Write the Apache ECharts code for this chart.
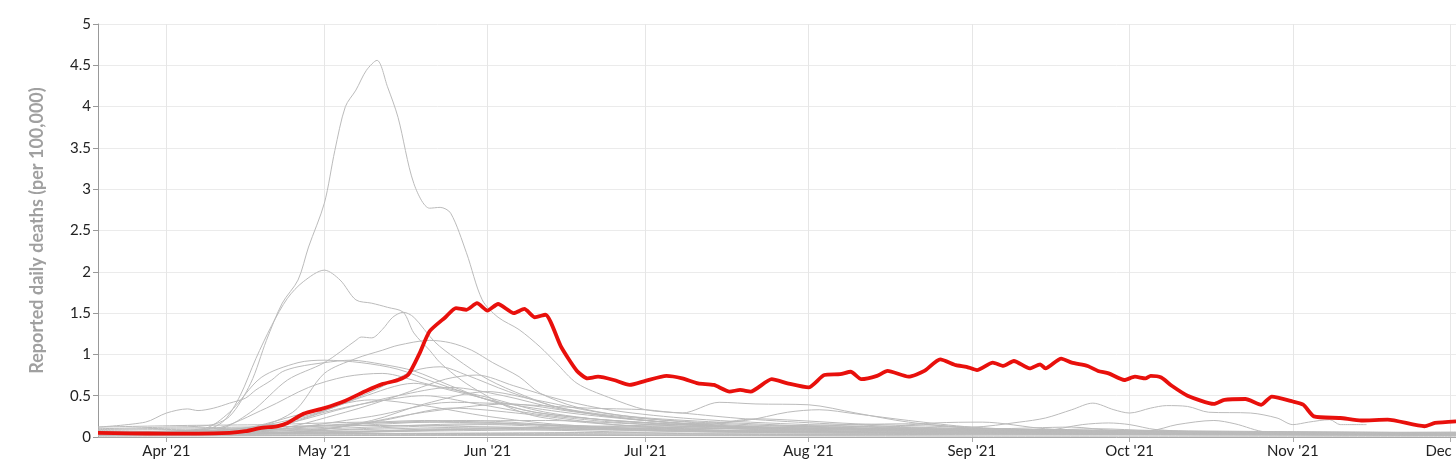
<!DOCTYPE html>
<html>
<head>
<meta charset="utf-8">
<title>Reported daily deaths</title>
<script src="https://cdn.jsdelivr.net/npm/echarts@6/dist/echarts.min.js"></script>
<style>
  html, body { margin: 0; padding: 0; background: #fff; }
  #chart { width: 1456px; height: 461px; }
</style>
</head>
<body>
<div id="chart"></div>
<script>
// x range and y ticks
const xStart = '2021-03-19';
const xEnd = '2021-12-02';
const yTicks = [0, 0.5, 1, 1.5, 2, 2.5, 3, 3.5, 4, 4.5, 5];
const monthNames = ['Jan', 'Feb', 'Mar', 'Apr', 'May', 'Jun', 'Jul', 'Aug', 'Sep', 'Oct', 'Nov', 'Dec'];

// highlighted country (red)
const redLine = [['03-19',0.05],['03-25',0.045],['04-01',0.04],['04-07',0.04],['04-13',0.05],['04-16',0.07],['04-19',0.11],['04-22',0.13],['04-24',0.17],['04-27',0.28],['05-01',0.35],['05-05',0.44],['05-09',0.56],['05-12',0.64],['05-15',0.69],['05-17',0.76],['05-19',1.0],['05-21',1.28],['05-24',1.45],['05-26',1.56],['05-28',1.54],['05-30',1.62],['06-01',1.53],['06-03',1.61],['06-06',1.50],['06-08',1.55],['06-10',1.45],['06-12',1.48],['06-15',1.09],['06-18',0.80],['06-20',0.71],['06-22',0.73],['06-25',0.69],['06-28',0.63],['07-01',0.68],['07-05',0.74],['07-08',0.71],['07-11',0.65],['07-14',0.63],['07-17',0.55],['07-19',0.57],['07-21',0.55],['07-25',0.70],['07-28',0.65],['08-01',0.60],['08-04',0.75],['08-07',0.76],['08-09',0.79],['08-11',0.70],['08-14',0.74],['08-16',0.80],['08-20',0.73],['08-23',0.80],['08-26',0.94],['08-29',0.87],['08-31',0.85],['09-02',0.81],['09-05',0.90],['09-07',0.86],['09-09',0.92],['09-12',0.83],['09-14',0.88],['09-15',0.83],['09-18',0.95],['09-20',0.90],['09-23',0.86],['09-25',0.80],['09-27',0.77],['09-30',0.69],['10-02',0.73],['10-04',0.71],['10-05',0.74],['10-07',0.72],['10-09',0.62],['10-12',0.50],['10-17',0.40],['10-19',0.45],['10-23',0.46],['10-26',0.39],['10-28',0.49],['11-01',0.43],['11-03',0.39],['11-05',0.25],['11-10',0.23],['11-14',0.20],['11-19',0.21],['11-26',0.13],['11-28',0.17],['12-02',0.19]];

// other countries (grey)
const gA = [['03-19',0.10],['04-01',0.12],['04-09',0.14],['04-13',0.25],['04-17',0.65],['04-20',1.17],['04-23',1.62],['04-26',1.9],['04-28',2.3],['05-01',2.83],['05-03',3.47],['05-05',4.0],['05-07',4.2],['05-09',4.44],['05-11',4.56],['05-13',4.24],['05-15',3.87],['05-18',3.07],['05-21',2.77],['05-23',2.78],['05-25',2.71],['05-28',2.23],['05-31',1.66],['06-03',1.45],['06-07',1.30],['06-11',1.09],['06-14',0.9],['06-18',0.65],['06-24',0.48],['07-01',0.33],['07-08',0.29],['07-20',0.22],['08-05',0.16],['09-01',0.10],['10-01',0.07],['11-01',0.05],['12-02',0.04]];
const gB = [['03-19',0.06],['04-01',0.07],['04-09',0.1],['04-12',0.2],['04-15',0.5],['04-18',0.95],['04-21',1.35],['04-24',1.68],['04-27',1.88],['05-01',2.02],['05-04',1.9],['05-07',1.66],['05-10',1.62],['05-13',1.57],['05-16',1.51],['05-18',1.26],['05-21',1.05],['05-23',0.9],['05-27',0.69],['05-31',0.53],['06-05',0.36],['06-11',0.24],['06-25',0.15],['07-15',0.1],['08-15',0.07],['10-01',0.05],['12-02',0.03]];
const gC = [['03-19',0.05],['04-10',0.08],['04-17',0.3],['04-24',0.69],['05-01',0.9],['05-07',1.17],['05-08',1.21],['05-10',1.2],['05-12',1.3],['05-14',1.45],['05-16',1.51],['05-18',1.45],['05-22',1.15],['05-26',0.95],['06-01',0.7],['06-08',0.5],['06-15',0.35],['07-01',0.22],['08-01',0.12],['09-01',0.08],['12-02',0.04]];
const gD = [['03-19',0.04],['04-15',0.08],['04-25',0.3],['05-01',0.77],['05-07',0.95],['05-12',1.05],['05-15',1.11],['05-21',1.17],['05-25',1.14],['05-29',1.05],['06-02',0.9],['06-07',0.73],['06-11',0.53],['06-18',0.36],['06-28',0.25],['07-15',0.18],['08-15',0.1],['10-01',0.06],['12-02',0.04]];
const gE = [['03-19',0.05],['04-08',0.1],['04-13',0.3],['04-19',0.72],['04-26',0.9],['05-01',0.93],['05-08',0.9],['05-15',0.82],['05-22',0.66],['06-01',0.45],['06-10',0.3],['06-25',0.2],['07-20',0.12],['09-01',0.07],['12-02',0.04]];
const gF = [['03-19',0.12],['03-28',0.18],['04-01',0.29],['04-05',0.34],['04-07',0.32],['04-10',0.35],['04-13',0.41],['04-16',0.47],['04-18',0.57],['04-21',0.69],['04-23',0.79],['04-26',0.85],['05-01',0.9],['05-06',0.93],['05-12',0.88],['05-18',0.8],['05-25',0.62],['06-01',0.45],['06-10',0.3],['06-25',0.2],['07-20',0.12],['09-01',0.07],['12-02',0.04]];
const c1 = [['03-19',0.05],['04-15',0.1],['04-30',0.3],['05-10',0.55],['05-18',0.8],['05-23',0.85],['05-28',0.75],['06-05',0.55],['06-15',0.35],['06-28',0.22],['07-20',0.12],['08-20',0.08],['10-01',0.05],['12-02',0.04]];
const c2 = [['03-19',0.04],['04-20',0.08],['05-05',0.3],['05-15',0.5],['05-24',0.7],['05-30',0.75],['06-06',0.62],['06-15',0.45],['06-25',0.32],['07-10',0.22],['08-01',0.15],['09-01',0.1],['12-02',0.05]];
const c3 = [['03-19',0.03],['04-15',0.06],['04-28',0.25],['05-08',0.48],['05-18',0.65],['05-26',0.55],['06-05',0.4],['06-18',0.28],['07-05',0.18],['08-01',0.1],['12-02',0.03]];
const c4 = [['03-19',0.06],['04-20',0.12],['05-05',0.35],['05-15',0.5],['05-25',0.6],['06-04',0.5],['06-14',0.35],['06-28',0.22],['07-20',0.12],['12-02',0.05]];
const c5 = [['03-19',0.02],['04-25',0.05],['05-10',0.2],['05-20',0.4],['06-01',0.55],['06-10',0.45],['06-22',0.3],['07-05',0.2],['07-25',0.12],['09-01',0.06],['12-02',0.03]];
const c6 = [['03-19',0.04],['04-20',0.1],['05-01',0.3],['05-10',0.42],['05-20',0.5],['05-30',0.4],['06-10',0.28],['06-25',0.18],['07-20',0.1],['12-02',0.04]];
const c7 = [['03-19',0.05],['04-15',0.1],['04-28',0.3],['05-10',0.45],['05-20',0.38],['06-01',0.25],['06-15',0.15],['07-10',0.08],['12-02',0.03]];
const c8 = [['03-19',0.03],['05-01',0.1],['05-20',0.3],['06-05',0.4],['06-18',0.3],['07-01',0.2],['07-20',0.12],['12-02',0.04]];
const c9 = [['03-19',0.02],['04-25',0.06],['05-12',0.2],['05-25',0.35],['06-08',0.28],['06-25',0.15],['07-15',0.08],['12-02',0.02]];
const c10 = [['03-19',0.05],['04-10',0.1],['04-20',0.35],['04-28',0.6],['05-05',0.73],['05-12',0.77],['05-20',0.65],['06-01',0.48],['06-12',0.3],['06-28',0.18],['07-30',0.1],['12-02',0.04]];
const b1 = [['03-19',0.03],['04-20',0.05],['05-15',0.12],['06-01',0.15],['06-20',0.1],['07-15',0.06],['09-01',0.04],['12-02',0.03]];
const b2 = [['03-19',0.08],['04-10',0.1],['04-30',0.14],['05-20',0.2],['06-10',0.15],['07-01',0.08],['08-01',0.05],['10-01',0.04],['12-02',0.05]];
const b3 = [['03-19',0.12],['04-05',0.14],['04-20',0.15],['05-10',0.18],['06-01',0.17],['06-25',0.1],['08-01',0.06],['12-02',0.04]];
const b4 = [['03-19',0.02],['05-01',0.05],['05-25',0.1],['06-15',0.08],['07-10',0.04],['12-02',0.02]];
const b5 = [['03-19',0.05],['04-15',0.07],['05-05',0.15],['05-28',0.2],['06-20',0.12],['07-20',0.08],['08-20',0.1],['09-15',0.06],['12-02',0.03]];
const b6 = [['03-19',0.01],['06-01',0.02],['09-01',0.01],['12-02',0.01]];
const b7 = [['03-19',0.06],['04-25',0.1],['05-20',0.18],['06-12',0.2],['07-05',0.14],['07-25',0.1],['08-15',0.06],['10-15',0.04],['12-02',0.03]];
const b8 = [['03-19',0.04],['05-01',0.08],['06-01',0.12],['07-01',0.1],['08-01',0.12],['09-01',0.08],['10-01',0.05],['12-02',0.06]];
const b9 = [['03-19',0.09],['04-15',0.12],['05-15',0.14],['06-15',0.1],['07-15',0.07],['09-15',0.05],['11-15',0.04],['12-02',0.04]];
const b10 = [['03-19',0.02],['06-01',0.03],['08-01',0.02],['10-01',0.03],['12-02',0.02]];
const b11 = [['03-19',0.03],['05-10',0.06],['06-05',0.1],['07-01',0.08],['08-05',0.13],['08-25',0.1],['09-20',0.06],['12-02',0.03]];
const b12 = [['03-19',0.07],['04-01',0.06],['05-01',0.1],['05-30',0.16],['06-30',0.12],['07-30',0.09],['08-30',0.07],['09-30',0.05],['10-30',0.06],['12-02',0.05]];
const l1 = [['03-19',0.04],['04-20',0.08],['05-10',0.25],['05-25',0.42],['06-05',0.4],['06-20',0.35],['07-01',0.33],['07-08',0.29],['07-15',0.42],['07-22',0.40],['08-01',0.39],['08-10',0.29],['08-20',0.18],['09-01',0.11],['10-01',0.06],['12-02',0.04]];
const l2 = [['03-19',0.02],['05-15',0.08],['06-15',0.12],['07-05',0.15],['07-20',0.2],['07-28',0.3],['08-03',0.33],['08-10',0.28],['08-20',0.2],['09-01',0.12],['09-20',0.07],['12-02',0.03]];
const l3 = [['03-19',0.03],['06-01',0.08],['07-01',0.1],['07-12',0.14],['07-22',0.22],['07-30',0.2],['08-10',0.16],['08-25',0.13],['09-05',0.1],['09-20',0.12],['09-28',0.08],['12-02',0.03]];
const l4 = [['03-19',0.03],['05-01',0.05],['06-01',0.1],['07-01',0.12],['08-01',0.14],['08-20',0.16],['09-01',0.12],['09-10',0.18],['09-15',0.23],['09-20',0.33],['09-24',0.41],['09-28',0.33],['10-01',0.29],['10-05',0.35],['10-08',0.38],['10-12',0.37],['10-16',0.30],['10-24',0.29],['10-29',0.23],['11-01',0.15],['11-04',0.18],['11-08',0.21],['11-10',0.15],['11-15',0.15]];
const l5 = [['03-19',0.02],['09-01',0.04],['09-25',0.1],['10-05',0.08],['10-10',0.15],['10-17',0.2],['10-21',0.16],['10-27',0.06],['11-15',0.04],['12-02',0.03]];
const l6 = [['03-19',0.04],['08-01',0.05],['09-15',0.08],['09-22',0.15],['09-27',0.17],['10-01',0.15],['10-06',0.09],['10-20',0.05],['12-02',0.04]];
const l7 = [['03-19',0.03],['07-01',0.06],['08-10',0.1],['08-25',0.17],['09-03',0.18],['09-15',0.1],['10-01',0.06],['12-02',0.04]];

const greyLines = [gA, gB, gC, gD, gE, gF, c1, c2, c3, c4, c5, c6, c7, c8, c9, c10,
  b1, b2, b3, b4, b5, b6, b7, b8, b9, b10, b11, b12, l1, l2, l3, l4, l5, l6, l7];

const FONT = 'Lato, "Noto Sans", sans-serif';
const toPoints = (arr) => arr.map(p => ['2021-' + p[0], p[1]]);

const chart = echarts.init(document.getElementById('chart'));

const series = greyLines.map(g => ({
  type: 'line',
  data: toPoints(g),
  smooth: 0.3,
  symbol: 'none',
  silent: true,
  lineStyle: { color: '#bbbbbb', width: 1 },
  z: 2
}));
series.push({
  type: 'line',
  data: toPoints(redLine),
  smooth: 0.2,
  symbol: 'none',
  lineStyle: { color: '#e8100c', width: 3.8 },
  z: 5
});

chart.setOption({
  animation: false,
  grid: { left: 98, right: 0, top: 24, bottom: 24, outerBoundsMode: 'none', containLabel: false },
  xAxis: {
    type: 'time',
    min: xStart,
    max: xEnd,
    splitNumber: 9,
    axisLine: { lineStyle: { color: '#aaa' } },
    axisTick: { show: true, length: 5, lineStyle: { color: '#aaa' } },
    axisLabel: {
      color: '#222',
      fontSize: 15,
      fontFamily: FONT,
      margin: 7,
      hideOverlap: false,
      formatter: (val) => monthNames[new Date(val).getMonth()] + " '21"
    },
    splitLine: { show: true, lineStyle: { color: '#e6e6e6' } }
  },
  yAxis: {
    type: 'value',
    min: yTicks[0],
    max: yTicks[yTicks.length - 1],
    interval: 0.5,
    name: 'Reported daily deaths (per 100,000)',
    nameLocation: 'middle',
    nameGap: 52,
    nameTextStyle: { color: '#a0a0a0', fontSize: 18, fontFamily: FONT, fontWeight: 'bold' },
    axisLine: { show: true, lineStyle: { color: '#999' } },
    axisTick: { show: true, length: 5, lineStyle: { color: '#999' } },
    axisLabel: { color: '#222', fontSize: 15, fontFamily: FONT, margin: 7 },
    splitLine: { lineStyle: { color: '#ebebeb' } }
  },
  series: series
});
</script>
</body>
</html>
